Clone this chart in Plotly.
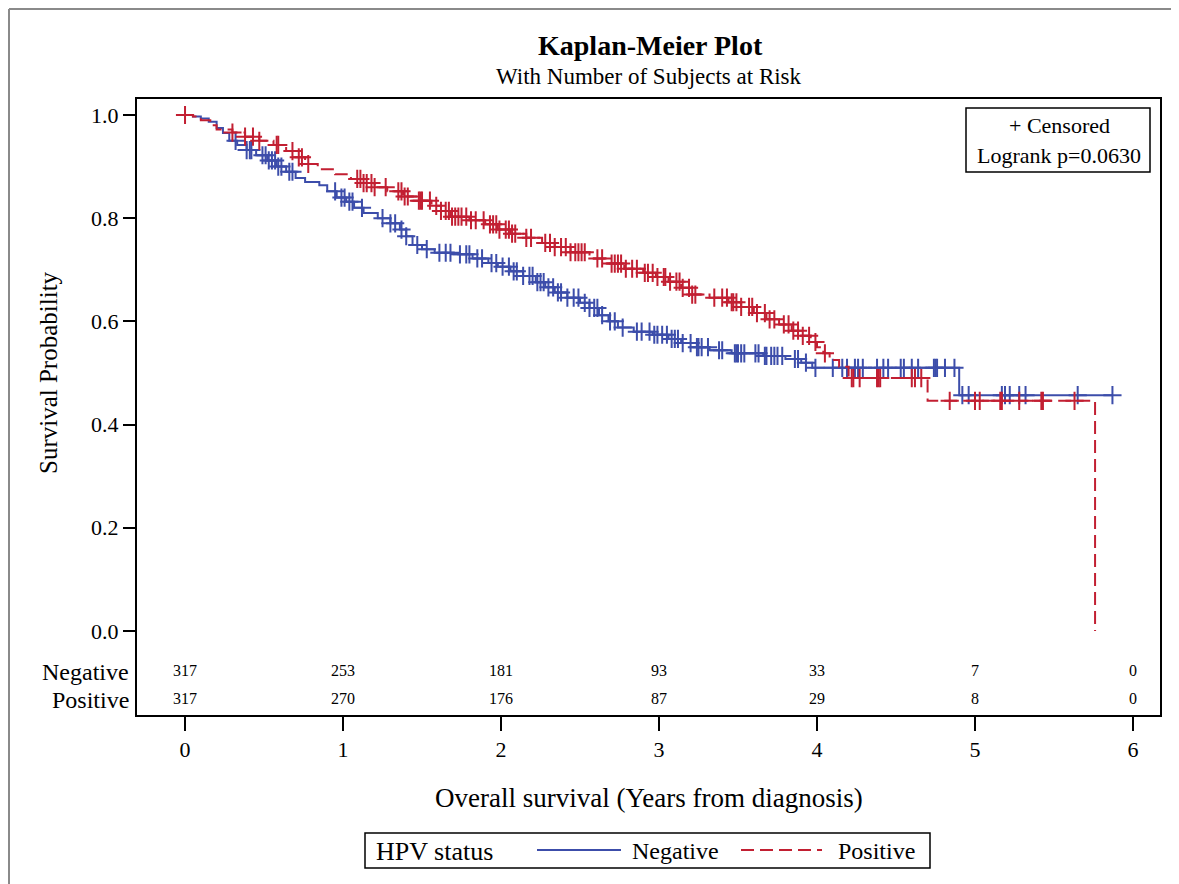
import numpy as np
import plotly.graph_objects as go

# ---------------- data ----------------
neg_time = [0.05, 0.10, 0.15, 0.20, 0.24, 0.28, 0.33, 0.39, 0.45, 0.52, 0.58, 0.64, 0.70, 0.76,
            0.85, 0.90, 0.96, 1.02, 1.07, 1.13, 1.22, 1.30, 1.36, 1.40, 1.44, 1.50, 1.58, 1.70,
            1.82, 1.92, 1.98, 2.06, 2.14, 2.22, 2.28, 2.34, 2.42, 2.50, 2.56, 2.62, 2.68, 2.74,
            2.84, 2.96, 3.06, 3.14, 3.24, 3.32, 3.46, 3.66, 3.80, 3.90, 3.97, 4.90]
neg_surv = [0.997, 0.993, 0.987, 0.975, 0.965, 0.950, 0.942, 0.932, 0.922, 0.912, 0.900, 0.890,
            0.878, 0.870, 0.864, 0.852, 0.840, 0.832, 0.820, 0.810, 0.800, 0.790, 0.778, 0.765,
            0.748, 0.740, 0.733, 0.730, 0.722, 0.713, 0.706, 0.697, 0.688, 0.676, 0.666, 0.656,
            0.646, 0.636, 0.626, 0.612, 0.600, 0.588, 0.580, 0.574, 0.566, 0.558, 0.550, 0.544,
            0.538, 0.533, 0.527, 0.520, 0.510, 0.457]
neg_end = 5.87
neg_censor = [0.32, 0.39, 0.41, 0.42, 0.49, 0.51, 0.53, 0.55, 0.57, 0.59, 0.61, 0.66, 0.68, 0.95,
              0.99, 1.01, 1.04, 1.06, 1.12, 1.25, 1.30, 1.33, 1.37, 1.40, 1.47, 1.53, 1.61, 1.65,
              1.68, 1.74, 1.78, 1.80, 1.85, 1.88, 1.94, 1.97, 2.01, 2.05, 2.08, 2.10, 2.14, 2.18,
              2.20, 2.23, 2.25, 2.27, 2.30, 2.33, 2.36, 2.38, 2.42, 2.46, 2.49, 2.53, 2.56, 2.59,
              2.61, 2.64, 2.69, 2.72, 2.77, 2.86, 2.89, 2.94, 2.97, 2.99, 3.02, 3.05, 3.08, 3.10,
              3.12, 3.15, 3.20, 3.24, 3.25, 3.27, 3.31, 3.38, 3.40, 3.48, 3.49, 3.50, 3.52, 3.54,
              3.61, 3.63, 3.67, 3.68, 3.71, 3.73, 3.75, 3.78, 3.86, 3.88, 3.93, 3.99, 4.10, 4.16,
              4.19, 4.24, 4.26, 4.29, 4.38, 4.42, 4.45, 4.53, 4.55, 4.60, 4.64, 4.74, 4.75, 4.76,
              4.81, 4.87, 4.92, 4.96, 5.17, 5.19, 5.22, 5.28, 5.32, 5.65, 5.87]

pos_time = [0.05, 0.10, 0.16, 0.20, 0.30, 0.38, 0.47, 0.56, 0.64, 0.70, 0.76, 0.84, 0.95, 1.05,
            1.12, 1.20, 1.28, 1.38, 1.48, 1.56, 1.62, 1.68, 1.80, 1.90, 1.98, 2.06, 2.16, 2.26,
            2.34, 2.44, 2.56, 2.66, 2.78, 2.90, 2.98, 3.06, 3.14, 3.20, 3.32, 3.44, 3.52, 3.60,
            3.68, 3.76, 3.84, 3.90, 3.96, 4.00, 4.04, 4.08, 4.14, 4.20, 4.70, 5.76]
pos_surv = [0.997, 0.990, 0.980, 0.972, 0.966, 0.958, 0.950, 0.942, 0.930, 0.918, 0.905, 0.895,
            0.885, 0.876, 0.868, 0.860, 0.852, 0.842, 0.834, 0.824, 0.814, 0.803, 0.796, 0.788,
            0.778, 0.770, 0.762, 0.752, 0.744, 0.734, 0.722, 0.712, 0.702, 0.694, 0.686, 0.677,
            0.665, 0.652, 0.646, 0.637, 0.628, 0.616, 0.604, 0.594, 0.582, 0.572, 0.560, 0.550,
            0.538, 0.525, 0.512, 0.490, 0.446, 0.0]
pos_end = 5.76
pos_censor = [0.0, 0.30, 0.38, 0.43, 0.47, 0.58, 0.59, 0.68, 0.72, 0.74, 0.78, 1.09, 1.11, 1.13,
              1.15, 1.18, 1.20, 1.27, 1.35, 1.37, 1.39, 1.41, 1.48, 1.49, 1.50, 1.55, 1.59, 1.62,
              1.65, 1.67, 1.69, 1.71, 1.73, 1.75, 1.78, 1.81, 1.84, 1.89, 1.93, 1.95, 1.97, 1.99,
              2.03, 2.05, 2.07, 2.09, 2.16, 2.19, 2.28, 2.31, 2.34, 2.38, 2.41, 2.44, 2.47, 2.49,
              2.51, 2.53, 2.61, 2.64, 2.70, 2.72, 2.74, 2.76, 2.79, 2.83, 2.86, 2.91, 2.93, 2.96,
              2.99, 3.03, 3.04, 3.07, 3.11, 3.13, 3.15, 3.19, 3.21, 3.23, 3.35, 3.40, 3.43, 3.46,
              3.47, 3.49, 3.52, 3.57, 3.59, 3.62, 3.67, 3.70, 3.73, 3.79, 3.82, 3.85, 3.88, 3.91,
              3.95, 3.99, 4.05, 4.22, 4.23, 4.27, 4.38, 4.39, 4.40, 4.60, 4.62, 4.66, 4.84, 5.00,
              5.03, 5.16, 5.17, 5.28, 5.42, 5.43, 5.63]

risk_times = [0, 1, 2, 3, 4, 5, 6]
neg_risk = [317, 253, 181, 93, 33, 7, 0]
pos_risk = [317, 270, 176, 87, 29, 8, 0]

groups = ["Negative", "Positive"]
x_ticks = [0, 1, 2, 3, 4, 5, 6]
y_ticks = [0.0, 0.2, 0.4, 0.6, 0.8, 1.0]

# ---------------- styling ----------------
FONT = "Liberation Serif"
BLUE = "#3C4DAA"
RED = "#C21F32"
RED_DASH = "13px,6px"

# page geometry (the html body adds an 8px margin)
OFF = 8
W, H = 1179 - OFF, 884 - OFF
BOX_L, BOX_R, BOX_T, BOX_B = 137, 1160, 99, 715  # plot box in screen pixels
L = BOX_L - OFF
T = BOX_T - OFF
R = W - (BOX_R - OFF)
B = H - (BOX_B - OFF)
pw, ph = W - L - R, H - T - B


def px(xs):
    return (xs - BOX_L) / pw


def py(ys):
    return (BOX_B - ys) / ph


def step_xy(times, surv, end):
    x = [0.0] + list(times) + [end]
    y = [1.0] + list(surv) + [surv[-1]]
    return x, y


def surv_at(times, surv, tt):
    t = np.asarray(times)
    s = np.asarray(surv)
    idx = np.searchsorted(t, np.asarray(tt), side="right")
    return np.where(idx == 0, 1.0, s[np.maximum(idx - 1, 0)])


fig = go.Figure()

for name, tms, sv, end, cens, col, dash in [
    ("Negative", neg_time, neg_surv, neg_end, neg_censor, BLUE, "solid"),
    ("Positive", pos_time, pos_surv, pos_end, pos_censor, RED, RED_DASH),
]:
    xs, ys = step_xy(tms, sv, end)
    fig.add_trace(go.Scatter(x=xs, y=ys, mode="lines", line_shape="hv", name=name,
                             line=dict(color=col, width=2, dash=dash), showlegend=False))
    fig.add_trace(go.Scatter(x=cens, y=surv_at(tms, sv, cens), mode="markers", showlegend=False,
                             marker=dict(symbol="cross-thin", size=13, color=col,
                                         line=dict(color=col, width=2))))

# at-risk numbers inside the plot box
ROW_Y = {"Negative": -0.0795, "Positive": -0.134}
for g, vals in zip(groups, [neg_risk, pos_risk]):
    fig.add_trace(go.Scatter(x=risk_times, y=[ROW_Y[g]] * len(risk_times), mode="text",
                             text=[str(v) for v in vals], textposition="middle center",
                             textfont=dict(family=FONT, size=16, color="black"),
                             showlegend=False, cliponaxis=False, hoverinfo="skip"))
    fig.add_annotation(x=px(131), xref="paper", y=ROW_Y[g], yref="y", text=g, showarrow=False,
                       xanchor="right", yanchor="middle", font=dict(family=FONT, size=24, color="black"))

fig.update_layout(
    width=W, height=H, margin=dict(l=L, r=R, t=T, b=B),
    paper_bgcolor="white", plot_bgcolor="white",
    font=dict(family=FONT, color="black"),
    xaxis=dict(range=[-0.304, 6.171], tickvals=x_ticks, ticks="outside", ticklen=14, tickwidth=2,
               tickcolor="black", showline=True, linecolor="black", linewidth=2, mirror=True,
               showgrid=False, zeroline=False, tickfont=dict(family=FONT, size=22)),
    yaxis=dict(range=[-0.163, 1.031], tickvals=y_ticks, ticktext=[f"{v:.1f}" for v in y_ticks],
               ticks="outside", ticklen=12, tickwidth=2, tickcolor="black", showline=True,
               linecolor="black", linewidth=2, mirror=True, showgrid=False, zeroline=False,
               tickfont=dict(family=FONT, size=22)),
)

# titles
fig.add_annotation(x=px(650), xref="paper", y=py(45), yref="paper", text="<b>Kaplan-Meier Plot</b>",
                   showarrow=False, xanchor="center", yanchor="middle", font=dict(family=FONT, size=28))
fig.add_annotation(x=px(649), xref="paper", y=py(77), yref="paper", text="With Number of Subjects at Risk",
                   showarrow=False, xanchor="center", yanchor="middle", font=dict(family=FONT, size=23))
fig.add_annotation(x=px(649), xref="paper", y=py(798), yref="paper",
                   text="Overall survival (Years from diagnosis)",
                   showarrow=False, xanchor="center", yanchor="middle", font=dict(family=FONT, size=27))
fig.add_annotation(x=px(48), xref="paper", y=py(373), yref="paper", text="Survival Probability",
                   textangle=-90, showarrow=False, xanchor="center", yanchor="middle",
                   font=dict(family=FONT, size=25))

# inset box
fig.add_shape(type="rect", xref="paper", yref="paper", x0=px(966), x1=px(1150), y0=py(172), y1=py(108),
              line=dict(color="black", width=1.5), fillcolor="white")
fig.add_annotation(x=px(1059), xref="paper", y=py(126), yref="paper", text="+ Censored",
                   showarrow=False, xanchor="center", yanchor="middle", font=dict(family=FONT, size=22))
fig.add_annotation(x=px(1059), xref="paper", y=py(155), yref="paper", text="Logrank p=0.0630",
                   showarrow=False, xanchor="center", yanchor="middle", font=dict(family=FONT, size=22))

# bottom legend
fig.add_shape(type="rect", xref="paper", yref="paper", x0=px(365), x1=px(930), y0=py(868), y1=py(833),
              line=dict(color="black", width=1.5))
fig.add_annotation(x=px(374), xref="paper", y=py(851), yref="paper", text="HPV status", showarrow=False,
                   xanchor="left", yanchor="middle", font=dict(family=FONT, size=26))
fig.add_shape(type="line", xref="paper", yref="paper", x0=px(537), x1=px(621), y0=py(850), y1=py(850),
              line=dict(color=BLUE, width=2))
fig.add_annotation(x=px(630), xref="paper", y=py(851), yref="paper", text=groups[0], showarrow=False,
                   xanchor="left", yanchor="middle", font=dict(family=FONT, size=24))
fig.add_shape(type="line", xref="paper", yref="paper", x0=px(741), x1=px(822), y0=py(850), y1=py(850),
              line=dict(color=RED, width=2, dash=RED_DASH))
fig.add_annotation(x=px(836), xref="paper", y=py(851), yref="paper", text=groups[1], showarrow=False,
                   xanchor="left", yanchor="middle", font=dict(family=FONT, size=24))

# outer grey frame (left, top, right edges), kept inside the figure canvas
FRAME = dict(color="#8a8a8a", width=2)
fx0, fx1, fy0, fy1 = px(9), px(1172), py(884), py(9)
fig.add_shape(type="line", xref="paper", yref="paper", x0=fx0, x1=fx0, y0=fy0, y1=fy1, line=FRAME)
fig.add_shape(type="line", xref="paper", yref="paper", x0=fx0, x1=fx1, y0=fy1, y1=fy1, line=FRAME)
fig.add_shape(type="line", xref="paper", yref="paper", x0=fx1, x1=fx1, y0=fy0, y1=fy1, line=FRAME)

fig.write_html("out.html")
